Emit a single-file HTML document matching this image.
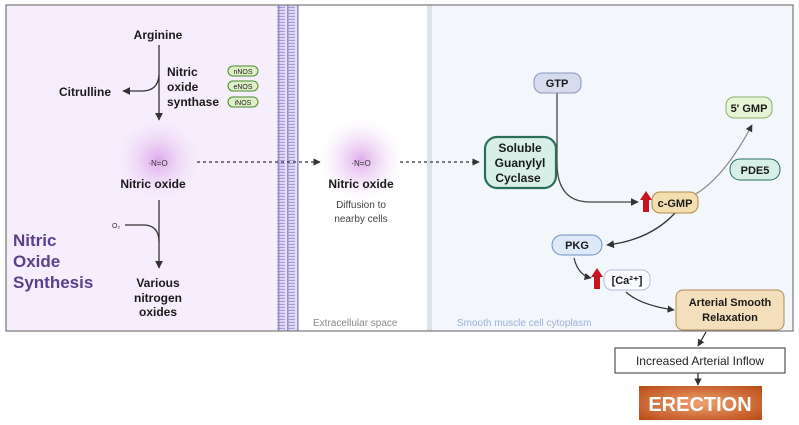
<!DOCTYPE html>
<html><head><meta charset="utf-8"><style>
body{margin:0;width:799px;height:425px;overflow:hidden;background:#fff;font-family:"Liberation Sans",sans-serif}
svg{display:block}
.b{font-weight:bold;fill:#1a1a1a}
</style></head><body>
<svg width="799" height="425" viewBox="0 0 799 425">
<defs>
<marker id="ah" viewBox="0 0 10 10" refX="9" refY="5" markerWidth="6" markerHeight="6" orient="auto"><path d="M0,0L10,5L0,10z" fill="#333"/></marker>
<radialGradient id="glow"><stop offset="0" stop-color="#d99ce8" stop-opacity="0.85"/><stop offset="0.5" stop-color="#e9c6f2" stop-opacity="0.5"/><stop offset="1" stop-color="#f3e6fa" stop-opacity="0"/></radialGradient>
<radialGradient id="erg" cx="0.5" cy="0.5" r="0.7"><stop offset="0" stop-color="#f0a070"/><stop offset="1" stop-color="#b84a14"/></radialGradient>
<pattern id="mem" width="22" height="3" patternUnits="userSpaceOnUse"><rect width="22" height="3" fill="#e6e1f5"/><rect x="1" y="0.8" width="8" height="1.3" fill="#a79ad8"/><rect x="13" y="0.8" width="8" height="1.3" fill="#a79ad8"/></pattern>
</defs>
<g>
<rect x="6" y="5" width="272" height="326" fill="#f6eefc"/>
</g>
<rect x="277" y="5" width="22" height="326" fill="url(#mem)"/>
<rect x="278" y="5" width="1.5" height="326" fill="#9a8cd0"/><rect x="287" y="5" width="1.5" height="326" fill="#9a8cd0"/><rect x="297" y="5" width="1.5" height="326" fill="#9a8cd0"/>
<rect x="299" y="5" width="128" height="326" fill="#fff"/>
<rect x="427" y="5" width="5" height="326" fill="#dbe3ec"/>
<rect x="432" y="5" width="361" height="326" fill="#f3f6fb"/>
<rect x="6" y="5" width="787" height="326" fill="none" stroke="#777" stroke-width="1.2"/>

<text x="158" y="39" class="b" font-size="12" text-anchor="middle">Arginine</text>
<line x1="159" y1="45" x2="159" y2="120" stroke="#333" stroke-width="1.3" marker-end="url(#ah)"/>
<path d="M159,75 Q158,91 142,91 L123,91" fill="none" stroke="#333" stroke-width="1.3" marker-end="url(#ah)"/>
<text x="85" y="96" class="b" font-size="12" text-anchor="middle">Citrulline</text>
<text class="b" font-size="12"><tspan x="167" y="76">Nitric</tspan><tspan x="167" y="91">oxide</tspan><tspan x="167" y="106">synthase</tspan></text>
<g font-size="7" text-anchor="middle" fill="#222">
<rect x="228" y="66" width="30" height="10" rx="5" fill="#dff0c8" stroke="#4a8a2a"/><text x="243" y="74">nNOS</text>
<rect x="228" y="81" width="30" height="10" rx="5" fill="#dff0c8" stroke="#4a8a2a"/><text x="243" y="89">eNOS</text>
<rect x="228" y="97" width="30" height="10" rx="5" fill="#dff0c8" stroke="#4a8a2a"/><text x="243" y="105">iNOS</text>
</g>
<circle cx="158" cy="160" r="44" fill="url(#glow)"/>
<text x="158" y="166" font-size="8" text-anchor="middle" fill="#333">·N=O</text>
<text x="153" y="188" class="b" font-size="12" text-anchor="middle">Nitric oxide</text>
<line x1="159" y1="200" x2="159" y2="268" stroke="#333" stroke-width="1.3" marker-end="url(#ah)"/>
<path d="M125,225 L145,225 Q159,226 159,242" fill="none" stroke="#333" stroke-width="1.2"/>
<text x="112" y="228" font-size="7" fill="#333">O₂</text>
<text class="b" font-size="12" text-anchor="middle"><tspan x="158" y="287">Various</tspan><tspan x="158" y="302">nitrogen</tspan><tspan x="158" y="316">oxides</tspan></text>
<text font-size="17" font-weight="bold" fill="#5b3f8c"><tspan x="13" y="246">Nitric</tspan><tspan x="13" y="267">Oxide</tspan><tspan x="13" y="288">Synthesis</tspan></text>

<line x1="197" y1="162" x2="320" y2="162" stroke="#333" stroke-width="1.2" stroke-dasharray="3,3" marker-end="url(#ah)"/>
<circle cx="361" cy="160" r="42" fill="url(#glow)"/>
<text x="361" y="166" font-size="8" text-anchor="middle" fill="#333">·N=O</text>
<text x="361" y="188" class="b" font-size="12" text-anchor="middle">Nitric oxide</text>
<text font-size="10" fill="#444" text-anchor="middle"><tspan x="361" y="208">Diffusion to</tspan><tspan x="361" y="222">nearby cells</tspan></text>
<text x="313" y="326" font-size="10" fill="#888">Extracellular space</text>
<line x1="400" y1="162" x2="479" y2="162" stroke="#333" stroke-width="1.2" stroke-dasharray="3,3" marker-end="url(#ah)"/>
<text x="457" y="326" font-size="10" fill="#9db0d8">Smooth muscle cell cytoplasm</text>

<path d="M557,93 L557,165 Q558,202 590,202 L638,202" fill="none" stroke="#444" stroke-width="1.3" marker-end="url(#ah)"/>
<path d="M675,202 Q715,195 752,125" fill="none" stroke="#888" stroke-width="1.2" marker-end="url(#ah)"/>
<path d="M675,213 Q650,240 607,245" fill="none" stroke="#333" stroke-width="1.3" marker-end="url(#ah)"/>
<path d="M574,258 Q578,275 591,278" fill="none" stroke="#333" stroke-width="1.2" marker-end="url(#ah)"/>
<path d="M626,292 Q640,305 674,310" fill="none" stroke="#333" stroke-width="1.2" marker-end="url(#ah)"/>
<line x1="706" y1="332" x2="698" y2="346" stroke="#222" stroke-width="1.2" marker-end="url(#ah)"/>
<line x1="698" y1="373" x2="698" y2="385" stroke="#222" stroke-width="1.2" marker-end="url(#ah)"/>

<g><rect x="534" y="73" width="47" height="20" rx="8" fill="#d6dbee" stroke="#8a96c0"/><text x="557" y="87" class="b" font-size="11" text-anchor="middle">GTP</text></g>
<g><rect x="726" y="97" width="46" height="21" rx="8" fill="#e6f3d4" stroke="#8ab070"/><text x="749" y="112" class="b" font-size="11" text-anchor="middle">5' GMP</text></g>
<g><rect x="485" y="137" width="71" height="51" rx="12" fill="#d8efe8" stroke="#2a6e5a" stroke-width="2.2"/><text class="b" font-size="12" text-anchor="middle"><tspan x="520" y="152">Soluble</tspan><tspan x="520" y="167">Guanylyl</tspan><tspan x="518" y="182">Cyclase</tspan></text></g>
<g><rect x="730" y="159" width="50" height="21" rx="10" fill="#d8efe8" stroke="#2a6e5a"/><text x="755" y="174" class="b" font-size="11" text-anchor="middle">PDE5</text></g>
<g><rect x="652" y="192" width="46" height="21" rx="8" fill="#f3deb0" stroke="#b08a4a"/><text x="675" y="207" class="b" font-size="11" text-anchor="middle">c-GMP</text></g>
<path d="M643,212 L643,200 L640,200 L646,191 L652,200 L649,200 L649,212z" fill="#c8141e"/>
<g><rect x="552" y="235" width="50" height="20" rx="10" fill="#dde9f8" stroke="#6a90c0"/><text x="577" y="249" class="b" font-size="11" text-anchor="middle">PKG</text></g>
<path d="M594,289 L594,277 L591,277 L597,268 L603,277 L600,277 L600,289z" fill="#c8141e"/>
<g><rect x="604" y="270" width="46" height="20" rx="8" fill="#fbfcff" stroke="#b0bcd8"/><text x="627" y="284" class="b" font-size="11" text-anchor="middle">[Ca²⁺]</text></g>
<g><rect x="676" y="290" width="108" height="40" rx="7" fill="#f3dfbb" stroke="#b08a5a"/><text class="b" font-size="11" text-anchor="middle"><tspan x="730" y="306">Arterial Smooth</tspan><tspan x="730" y="321">Relaxation</tspan></text></g>
<g><rect x="615" y="348" width="170" height="25" fill="#fff" stroke="#333"/><text x="700" y="365" font-size="12" fill="#222" text-anchor="middle">Increased Arterial Inflow</text></g>
<g><rect x="639" y="386" width="123" height="34" fill="url(#erg)"/><text x="700" y="411" font-size="20" font-weight="bold" fill="#fff" text-anchor="middle">ERECTION</text></g>
</svg>
</body></html>
